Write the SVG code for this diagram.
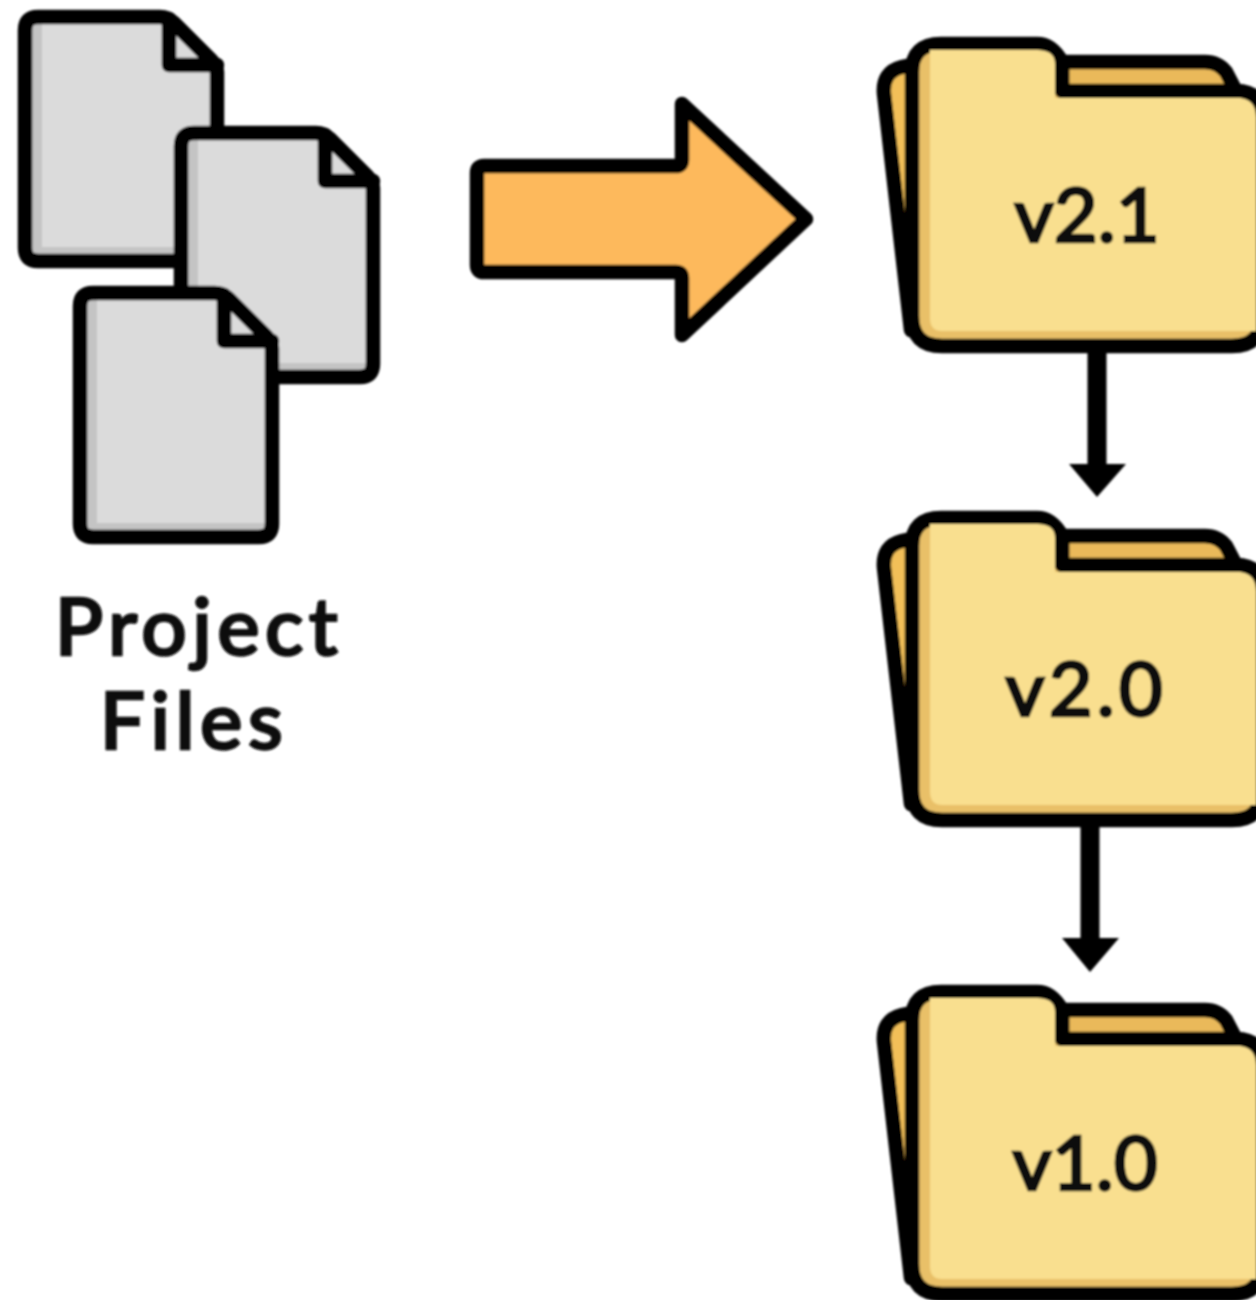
<svg xmlns="http://www.w3.org/2000/svg" xmlns:xlink="http://www.w3.org/1999/xlink" width="1256" height="1300" viewBox="0 0 1256 1300">
<style>
.ol{stroke:#000;stroke-width:14.5;stroke-linejoin:round;stroke-linecap:round}
.t{font-family:"Lato","Liberation Sans",sans-serif;font-size:80px;font-weight:500;fill:#0a0a0a;text-anchor:middle;stroke:#0a0a0a;stroke-width:2.6;letter-spacing:5.5px}
.v{font-size:76px;letter-spacing:0}
</style>
<defs>
<filter id="b" x="-5%" y="-5%" width="110%" height="110%"><feGaussianBlur stdDeviation="1.2"/></filter>
<g id="doc">
<path d="M38 17H162L217 68V248Q217 261 204 261H38Q25 261 25 248V30Q25 17 38 17Z" fill="#c4c4c4"/>
<path d="M42 17H162L217 68V247H42Z" fill="#dbdbdb"/>
<path class="ol" fill="none" d="M38 17H160Q168 17 174 23L211 60Q217 66 217 72V248Q217 261 204 261H38Q25 261 25 248V30Q25 17 38 17Z"/>
<path class="ol" fill="none" d="M169 19V65H217"/>
</g>
<g id="folder">
<path class="ol" fill="#f2bf58" d="M925 62L902 67Q882 72 884 94L911 330H925Z"/>
<path class="ol" fill="#eab95a" d="M1062 62H1205Q1218 62 1226 72L1238 95H1062Z"/>
<path class="ol" fill="#e9c067" d="M912 72Q912 44 941 44H1037Q1052 44 1062 62V91H1236Q1262 91 1262 117V316Q1262 346 1232 346H942Q912 346 912 316Z"/>
<path fill="#f9df8f" d="M930 50H1037Q1055 50 1055 64V98H1240Q1256 100 1256 117V331H942Q930 331 930 318Z"/>
</g>
</defs>
<g filter="url(#b)">
<g id="file-1"><use xlink:href="#doc" href="#doc"/></g>
<g id="file-2"><use xlink:href="#doc" href="#doc" x="156" y="116"/></g>
<g id="file-3"><use xlink:href="#doc" href="#doc" x="55" y="276"/></g>
<g id="project-files-label">
<text class="t" x="199" y="655">Project</text>
<text class="t" x="194" y="749">Files</text>
</g>
<g id="folder-v21"><use xlink:href="#folder" href="#folder"/><text class="t v" x="1087" y="242">v2.1</text></g>
<g id="folder-v20"><use xlink:href="#folder" href="#folder" y="474"/><text class="t v" x="1086" y="716" style="letter-spacing:4px">v2.0</text></g>
<g id="folder-v10"><use xlink:href="#folder" href="#folder" y="948"/><text class="t v" x="1085" y="1190">v1.0</text></g>
<g id="connectors">
<path class="ol" fill="#fdb95c" d="M484 166H676Q682 166 682 160V104L806 219L682 335V278Q682 272 676 272H484Q477 272 477 265V173Q477 166 484 166Z"/>
<path d="M1097 350V468" stroke="#000" stroke-width="19" fill="none"/>
<path d="M1069 464H1126L1097 497Z" fill="#000"/>
<path d="M1090 824V942" stroke="#000" stroke-width="19" fill="none"/>
<path d="M1062 938H1119L1090 972Z" fill="#000"/>
</g>
</g>
</svg>
